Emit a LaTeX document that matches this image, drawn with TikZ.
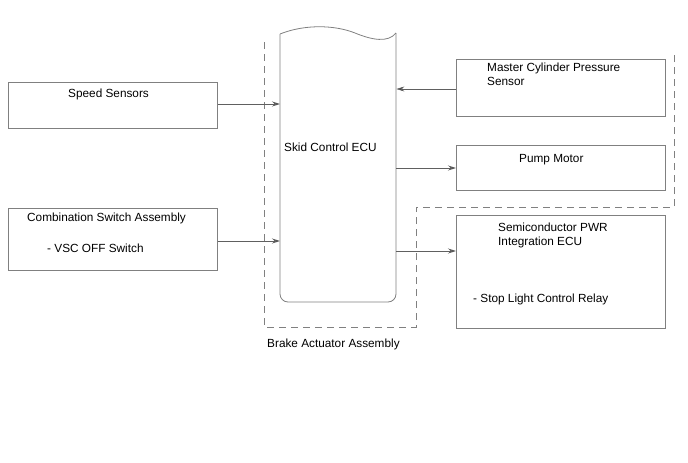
\documentclass[tikz,border=0pt]{standalone}
\usepackage{fontspec}
\setmainfont{Liberation Sans}
\usepackage{tikz}
\usetikzlibrary{shapes, arrows.meta}
\definecolor{linecol}{HTML}{808080}
\definecolor{arrowcol}{HTML}{606060}
\tikzstyle{block} = [rectangle, draw=linecol, line width=0.8pt, anchor=north west, inner sep=0pt, minimum width=209pt]
\tikzstyle{txt} = [anchor=base west, inner sep=0pt, align=left, font=\fontsize{11.8}{13.2}\selectfont]
\tikzstyle{arrow} = [draw=arrowcol, line width=0.8pt, ->, >={Stealth[length=8pt, width=5pt, fill=black]}]
\tikzstyle{assembly} = [draw=linecol, line width=0.8pt, dash pattern=on 7pt off 5pt]

\begin{document}
\begin{tikzpicture}[x=1pt, y=-1pt]
    \useasboundingbox (0,0) rectangle (688,463);

    \node (speed) [block, minimum height=46pt] at (8,82) {};
    \node (combo) [block, minimum height=62pt] at (8,208) {};
    \node (master) [block, minimum height=57pt] at (456,59) {};
    \node (pump) [block, minimum height=45pt] at (456,145) {};
    \node (semi) [block, minimum height=113pt] at (456,215) {};
    \node (ecu) [rectangle, anchor=north west, inner sep=0pt, minimum width=116pt, minimum height=269pt] at (280,33) {};

    % skid control ECU outline
    \draw [draw=linecol, line width=0.8pt, rounded corners=8pt] (396,33) -- (396,302) -- (280,302) -- (280,34);
    \draw [draw=linecol, line width=0.8pt] (280,34) .. controls (305,24) and (335,25) .. (355,33) .. controls (372,40) and (388,43) .. (396,33);

    % brake actuator assembly
    \draw [assembly] (264,42) -- (264,327) -- (416,327) -- (416,207) -- (674,207) -- (674,52);

    \node (speedtxt) [txt] at (68,97) {Speed Sensors};
    \node (combotxt) [txt] at (27,221) {Combination Switch Assembly};
    \node (vsctxt) [txt] at (47,252) {- VSC OFF Switch};
    \node (ecutxt) [txt] at (284,151) {Skid Control ECU};
    \node (mastertxt) [txt] at (487,85) {Master Cylinder Pressure\\Sensor};
    \node (pumptxt) [txt] at (519,162) {Pump Motor};
    \node (semitxt) [txt] at (498,245) {Semiconductor PWR\\Integration ECU};
    \node (relaytxt) [txt] at (473,302) {- Stop Light Control Relay};
    \node (brake) [txt] at (267,347) {Brake Actuator Assembly};

    \draw [arrow] (speed.east |- 0,104) -- (ecu.west |- 0,104);
    \draw [arrow] (combo.east |- 0,241) -- (ecu.west |- 0,241);
    \draw [arrow] (master.west |- 0,89) -- (ecu.east |- 0,89);
    \draw [arrow] (ecu.east |- 0,168) -- (pump.west |- 0,168);
    \draw [arrow] (ecu.east |- 0,251) -- (semi.west |- 0,251);

\end{tikzpicture}
\end{document}
